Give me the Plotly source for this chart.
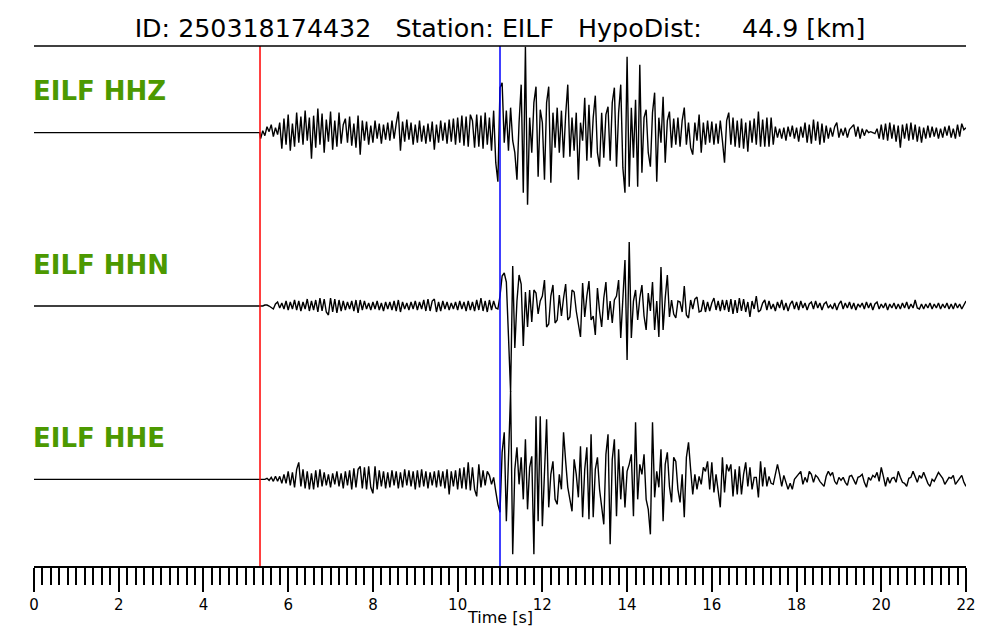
import numpy as np
import plotly.graph_objects as go

# ---------------- data ----------------
EVENT_ID = "250318174432"
STATION = "EILF"
HYPO_DIST_KM = 44.9
CHANNELS = ["HHZ", "HHN", "HHE"]
P_PICK = 5.335      # s
S_PICK = 11.0       # s
ONSET = 5.33        # s, last quiet sample
T0 = 5.35           # s, first sample of the waveform arrays
DT = 0.05           # s
NORM = 173.3        # amplitude units per trace spacing
T_MAX = 22.0
X_TICKS = [0, 2, 4, 6, 8, 10, 12, 14, 16, 18, 20, 22]

hhz = [
    -6, 2, -3, 6, 1, 8, -4, 5, -2, 10, -16, 14, -12, 18, -18, 9, -14, 20, -10, 16,
    -12, 22, -8, 15, -26, 17, -15, 24, -12, 19, -20, 13, -9, 21, -17, 12, -14, 20, -11, 8,
    14, -10, 16, -13, 9, -15, 17, -22, 12, -8, 11, -12, 7, -10, 12, -6, 9, -11, 8, -7,
    10, -8, 12, -6, 9, 21, -18, 11, -9, 13, -7, 10, -12, 8, -10, 12, -9, 7, -11, 9,
    -9, 11, -17, 8, -10, 12, -8, 10, -11, 13, -9, 14, -12, 15, -10, 17, -13, 16, -14, 18,
    12, -15, 18, -14, 17, -16, 20, -12, 15, -18, 22, -30, -49, 45, 50, -10, 22, -18, 25, -8,
    -20, -47, 10, 48, -60, 86, -72, 15, -20, 30, 46, -44, 23, 10, -47, 30, 46, -50, 20, -15,
    25, -20, 22, -25, 18, 48, -24, 15, -18, 20, -47, 10, -8, 35, -28, 28, -25, 15, 37, -20,
    -34, 20, -25, 18, 26, -28, 30, 45, -34, 20, 48, -35, -60, 76, -54, 25, -25, 33, -54, 68,
    -40, 15, 23, -20, -34, 20, 40, -49, 15, -10, 36, -30, 12, 21, -15, 14, -12, 15, -14, 12,
    25, -12, 10, -15, -22, 10, -8, 18, -20, 10, -12, 12, -10, 11, -12, 9, -11, 12, -8, -30,
    12, 20, -12, 15, -14, 12, -15, 14, -16, 10, -19, 12, -10, 14, -12, 21, -14, 13, -14, 15,
    -14, 15, -12, 6, -5, 4, -6, 5, -8, 6, -4, 7, -6, 5, -9, 6, -5, 10, -10, 8,
    -11, 13, -8, 11, -12, 9, -10, 7, -6, 5, -4, 6, 10, -5, 4, -3, 5, -5, 3, 6,
    8, -4, 6, -6, 4, -3, 3, 0, 1, 0, -1, 4, -6, 8, -7, 9, -8, 10, -6, 8,
    -9, 7, -15, 8, -6, 9, -8, 10, -7, 8, -9, 6, -10, 5, -6, 7, -5, 6, -4, 5,
    -6, 4, -5, 6, -3, 7, -5, 4, -6, 8, -4, 9, 3, 5,
]

hhn = [
    0, 0, 1, 1, 0, -2, -3, 2, 4, -2, 3, -3, 5, -4, 4, -3, 6, -4, 5, -5,
    4, -3, 7, -5, 5, -4, 6, -6, 8, -5, 7, -6, -9, 8, -6, 7, -7, 6, -5, 5,
    -4, 4, -3, 5, -5, 6, -7, 6, -4, 5, -3, 3, -4, 4, -3, 5, -4, 3, -5, 4,
    -3, 4, -4, 5, -5, 6, -6, 4, -3, 3, -4, 4, -3, 5, -4, 4, -3, 6, -5, 7,
    -5, 5, 7, -6, 4, -5, 5, -3, 4, -4, 3, -3, 4, -4, 5, -3, 4, -5, 5, -4,
    4, -5, 6, -4, 8, -5, 5, -6, 6, -4, 5, -2, -3, 10, 30, 33, 24, -30, -86, 40,
    -42, 5, 31, 22, -40, 14, -21, 16, -16, 16, 13, -8, 5, 10, 26, -21, -18, 10, 21, -17,
    -14, 11, -10, 8, 22, -14, -11, 16, 14, -5, -20, -31, 23, -11, 10, 25, -14, -10, -29, 18,
    -5, -21, 8, 24, -14, 5, -17, 6, 10, 26, -32, 10, 46, -54, 64, -32, 5, 16, -14, 8,
    21, -10, -24, 13, -5, 24, -24, 5, -31, 39, -24, 8, 31, -11, 6, -8, -12, 5, 4, -6,
    20, -9, -12, 6, -3, 7, 9, -6, -5, 6, -6, 4, -5, 3, 8, -4, 5, -5, 6, -4,
    6, -6, 7, -8, 6, -7, 8, -5, 7, -6, 4, -11, 5, -3, 10, -6, -4, 3, 6, -4,
    5, -3, 2, -5, 4, -2, 6, -4, 3, -5, 2, 5, -3, 4, -4, 5, -2, 3, -4, 2,
    4, -3, 5, -2, 3, -4, 2, 4, -2, 1, -3, 3, -4, 2, 5, -3, 3, -2, 4, -3,
    3, -4, 2, -1, 3, -3, 4, -2, 3, -4, 2, 4, -3, 2, -2, 3, -4, 2, -2, 3,
    -3, 2, -3, 3, -2, 4, -3, 2, -2, 6, -2, -3, 2, -3, 2, -2, 3, -3, 2, -2,
    3, -3, 2, -2, 3, -3, 2, -3, 3, -2, 2, -3, 1, 5,
]

hhe = [
    0, 0, 0, 1, -1, 2, -2, 3, -2, 3, -4, 5, -4, 8, -6, 7, -8, 10, 17, -7,
    10, -9, 8, -10, 6, -10, 9, -8, 10, -7, 7, -6, 5, -8, 6, -5, 8, -7, 6, -9,
    8, -6, 9, -10, 11, -8, 10, 13, -9, 12, -10, 13, -8, -14, 13, -10, 9, -7, 8, -9,
    7, -8, 9, -6, 8, -9, 7, -8, 10, -6, 9, -7, 8, -10, 9, -8, 10, -7, 8, -9,
    7, -6, 8, -8, 9, -7, 8, -9, 10, -15, 8, -7, 9, -10, 11, -9, 12, -10, 17, -11,
    12, -10, -17, 15, -8, 9, -6, 8, 4, -5, 2, -12, -25, -33, 27, 47, -42, 20, 88, -75,
    10, 32, -5, 22, -20, 40, -30, 12, 23, -75, 63, -42, 63, -47, 10, 60, -28, 5, 18, -20,
    -25, 5, -10, 47, 18, -8, -20, -32, 20, 5, -18, 33, -38, 10, 32, -40, 45, -38, 10, 22,
    -10, -30, -45, 25, 45, -65, 20, 40, -37, 30, -20, 13, -28, 8, 15, 25, -37, 57, -20, 15,
    5, 25, -20, -30, -55, 57, -18, 8, -8, 30, -42, 15, 27, -7, -23, 22, 18, -10, -23, 5,
    -38, 22, 37, 10, -15, 5, -10, 3, -5, 12, 8, 18, -10, 17, -13, 5, -10, -28, 22, -13,
    15, 8, 15, -17, 10, -15, 13, -15, 5, 17, -7, 12, -10, 2, 2, -18, 18, -7, 12, -7,
    3, -4, -5, 6, 15, 5, -7, 4, -3, -10, -4, -10, 0, 3, 6, 8, -5, 2, -3, 8,
    5, -3, 4, 2, -2, -4, -7, 3, 8, 4, 7, -2, -5, 2, -1, 2, -3, -6, 3, 4,
    0, -5, 2, 3, 5, -3, -8, 2, -1, 4, 2, 7, -2, 12, 3, -7, 2, -4, 1, 2,
    -3, 8, 2, -3, -4, -7, 1, 2, 8, 3, -3, 4, 1, 7, 2, -4, -7, 0, -2, 3,
    7, 4, 1, -5, -2, 2, 1, 4, -5, -2, 2, 4, -3, -7,
]

WAVEFORMS = [hhz, hhn, hhe]

# ---------------- figure ----------------
FONT = "DejaVu Sans"
LABEL_GREEN = "#4c9900"
n_tr = len(CHANNELS)

fig = go.Figure()
for i, (ch, vals) in enumerate(zip(CHANNELS, WAVEFORMS)):
    offset = n_tr - 0.5 - i
    t = np.concatenate([[0.0, ONSET], T0 + DT * np.arange(len(vals))])
    y = offset + np.concatenate([[0.0, 0.0], np.asarray(vals, float) / NORM])
    fig.add_trace(go.Scatter(x=t, y=y, mode="lines",
                             line=dict(color="black", width=1.4),
                             hoverinfo="skip", showlegend=False))
    fig.add_annotation(x=0, y=offset + 0.238, xref="x", yref="y",
                       text=f"<b>{STATION} {ch}</b>", showarrow=False,
                       xanchor="left", yanchor="middle", xshift=-3,
                       font=dict(family=FONT, size=26, color=LABEL_GREEN))

# picks
fig.add_shape(type="line", xref="x", yref="paper", x0=P_PICK, x1=P_PICK, y0=0, y1=1,
              line=dict(color="red", width=1.5), layer="above")
fig.add_shape(type="line", xref="x", yref="paper", x0=S_PICK, x1=S_PICK, y0=0, y1=1,
              line=dict(color="blue", width=1.5), layer="above")
# top spine
fig.add_shape(type="line", xref="paper", yref="paper", x0=0, x1=1, y0=1, y1=1,
              line=dict(color="black", width=1.5), layer="above")

# x-axis title
fig.add_annotation(x=0.5, y=0, xref="paper", yref="paper", text="Time [s]",
                   showarrow=False, xanchor="center", yanchor="middle", yshift=-51,
                   font=dict(family=FONT, size=16, color="black"))

nb = "\u00a0"
title = (f"ID: {EVENT_ID}{nb*3}Station: {STATION}{nb*3}HypoDist:{nb*5}"
         f"{HYPO_DIST_KM:.1f} [km]")

fig.update_layout(
    width=1000, height=640,
    margin=dict(l=26, r=42, t=38, b=82),
    paper_bgcolor="white", plot_bgcolor="white",
    font=dict(family=FONT, color="black"),
    title=dict(text=title, x=(500 - 8) / 1000, xanchor="center",
               y=1 - 20 / 640, yanchor="middle", yref="container",
               font=dict(family=FONT, size=25.3, color="black")),
    xaxis=dict(range=[0, T_MAX], showgrid=False, zeroline=False,
               showline=True, linecolor="black", linewidth=2,
               ticks="outside", ticklen=24, tickwidth=2, tickcolor="black",
               tickvals=X_TICKS, ticktext=[str(v) for v in X_TICKS],
               tickfont=dict(family=FONT, size=15, color="black"),
               minor=dict(dtick=0.2, ticks="outside", ticklen=17, tickwidth=2,
                          tickcolor="black", showgrid=False)),
    yaxis=dict(range=[0, n_tr], visible=False, fixedrange=True),
)

fig.write_html("out.html")
